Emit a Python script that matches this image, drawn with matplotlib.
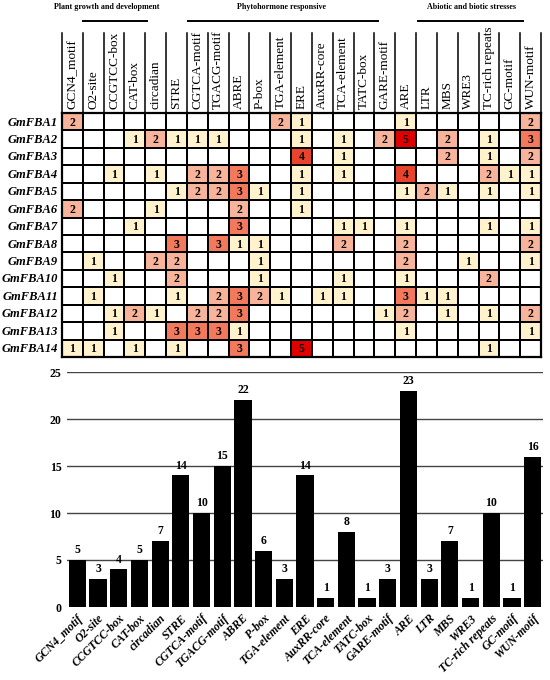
import matplotlib
matplotlib.use('Agg')
import matplotlib.pyplot as plt
import numpy as np
from matplotlib.colors import ListedColormap, BoundaryNorm

plt.rcParams['font.family'] = ['Liberation Serif', 'DejaVu Serif']

# cis-element names (columns)
motifs = ['GCN4_motif', 'O2-site', 'CCGTCC-box', 'CAT-box', 'circadian',
          'STRE', 'CGTCA-motif', 'TGACG-motif', 'ABRE', 'P-box',
          'TGA-element', 'ERE', 'AuxRR-core', 'TCA-element', 'TATC-box',
          'GARE-motif', 'ARE', 'LTR', 'MBS', 'WRE3', 'TC-rich repeats',
          'GC-motif', 'WUN-motif']
genes = ['GmFBA%d' % i for i in range(1, 15)]

# counts per gene, one row per GmFBA, columns in motif order
counts = [
    [2, 0, 0, 0, 0, 0, 0, 0, 0, 0, 2, 1, 0, 0, 0, 0, 1, 0, 0, 0, 0, 0, 2],
    [0, 0, 0, 1, 2, 1, 1, 1, 0, 0, 0, 1, 0, 1, 0, 2, 5, 0, 2, 0, 1, 0, 3],
    [0, 0, 0, 0, 0, 0, 0, 0, 0, 0, 0, 4, 0, 1, 0, 0, 0, 0, 2, 0, 1, 0, 2],
    [0, 0, 1, 0, 1, 0, 2, 2, 3, 0, 0, 1, 0, 1, 0, 0, 4, 0, 0, 0, 2, 1, 1],
    [0, 0, 0, 0, 0, 1, 2, 2, 3, 1, 0, 1, 0, 0, 0, 0, 1, 2, 1, 0, 1, 0, 1],
    [2, 0, 0, 0, 1, 0, 0, 0, 2, 0, 0, 1, 0, 0, 0, 0, 0, 0, 0, 0, 0, 0, 0],
    [0, 0, 0, 1, 0, 0, 0, 0, 3, 0, 0, 0, 0, 1, 1, 0, 1, 0, 0, 0, 1, 0, 1],
    [0, 0, 0, 0, 0, 3, 0, 3, 1, 1, 0, 0, 0, 2, 0, 0, 2, 0, 0, 0, 0, 0, 2],
    [0, 1, 0, 0, 2, 2, 0, 0, 0, 1, 0, 0, 0, 0, 0, 0, 2, 0, 0, 1, 0, 0, 1],
    [0, 0, 1, 0, 0, 2, 0, 0, 0, 1, 0, 0, 0, 1, 0, 0, 1, 0, 0, 0, 2, 0, 0],
    [0, 1, 0, 0, 0, 1, 0, 2, 3, 2, 1, 0, 1, 1, 0, 0, 3, 1, 1, 0, 0, 0, 0],
    [0, 0, 1, 2, 1, 0, 2, 2, 3, 0, 0, 0, 0, 0, 0, 1, 2, 0, 1, 0, 1, 0, 2],
    [0, 0, 1, 0, 0, 3, 3, 3, 1, 0, 0, 0, 0, 0, 0, 0, 1, 0, 0, 0, 0, 0, 1],
    [1, 1, 0, 1, 0, 1, 0, 0, 3, 0, 0, 5, 0, 0, 0, 0, 0, 0, 0, 0, 1, 0, 0],
]

# totals shown in the bar chart
totals = [5, 3, 4, 5, 7, 14, 10, 15, 22, 6, 3, 14, 1, 8, 1, 3, 23, 3, 7, 1, 10, 1, 16]

# group headers: (title, line start, line end) in column units
groups = [('Plant growth and development', 1.0, 4.1),
          ('Phytohormone responsive', 6.05, 15.15),
          ('Abiotic and biotic stresses', 17.1, 22.15)]
group_text_x = [2.15, 10.55, 19.65]

fig = plt.figure(figsize=(5.5, 6.8), dpi=100)

# ---------- heatmap ----------
W, H = 550.0, 680.0
gx0, gx1, gy0, gy1 = 62, 541, 113, 357
ax = fig.add_axes([gx0 / W, 1 - gy1 / H, (gx1 - gx0) / W, (gy1 - gy0) / H])
data = np.array(counts)
cmap = ListedColormap(['#FFFFFF', '#FFF2CC', '#F8B49A', '#F2795C', '#E8432C', '#E00000'])
norm = BoundaryNorm(np.arange(-0.5, 6.5, 1), cmap.N)
ax.pcolormesh(np.arange(len(motifs) + 1), np.arange(len(genes) + 1), data,
              cmap=cmap, norm=norm, edgecolor='black', linewidth=1.4)
ax.set_xlim(0, len(motifs))
ax.set_ylim(len(genes), 0)
for i in range(len(genes)):
    for j in range(len(motifs)):
        if data[i, j] > 0:
            ax.text(j + 0.5, i + 0.55, str(data[i, j]), ha='center', va='center',
                    fontsize=8.5, fontweight='bold')
ax.set_xticks([])
ax.set_yticks([])
for s in ax.spines.values():
    s.set_linewidth(1.6)

# row labels
for i, g in enumerate(genes):
    ax.text(-0.2, i + 0.55, g, ha='right', va='center', fontsize=9,
            fontweight='bold', fontstyle='italic')

# header: vertical separators and rotated column names
top = -4.6
for j in range(len(motifs) + 1):
    ax.plot([j, j], [0, top], color='black', lw=1.1, clip_on=False)
for j, m in enumerate(motifs):
    ax.text(j + 0.5, -0.25, m, rotation=90, ha='center', va='bottom', fontsize=9.5)

# group titles and lines
for (title, l0, l1), tx in zip(groups, group_text_x):
    ax.text(tx, -6.1, title, ha='center', va='center', fontsize=5.8, fontweight='bold')
    ax.plot([l0, l1], [-5.3, -5.3], color='black', lw=1.4, clip_on=False)

# ---------- bar chart ----------
bx0, bx1, by0, by1 = 67, 543, 372, 607
ax2 = fig.add_axes([bx0 / W, 1 - by1 / H, (bx1 - bx0) / W, (by1 - by0) / H])
x = np.arange(len(motifs))
ax2.bar(x, totals, width=0.83, color='black', zorder=3)
for xi, v in zip(x, totals):
    ax2.text(xi, v + 0.4, str(v), ha='center', va='bottom', fontsize=8.5, fontweight='bold')
ax2.set_xlim(-0.5, len(motifs) - 0.5)
ax2.set_ylim(0, 25)
yt = [0, 5, 10, 15, 20, 25]
ax2.set_yticks(yt)
ax2.set_yticklabels([str(t) for t in yt], fontsize=8.5, fontweight='bold')
for t in yt[1:]:
    ax2.axhline(t, color='#444444', lw=1.0, zorder=1)
ax2.set_xticks(x)
ax2.set_xticklabels(motifs, rotation=45, ha='right', rotation_mode='anchor',
                    fontsize=8.5, fontweight='bold', fontstyle='italic')
ax2.tick_params(axis='both', length=0, pad=4)
for s in ax2.spines.values():
    s.set_visible(False)

fig.savefig('out.png', dpi=100)
